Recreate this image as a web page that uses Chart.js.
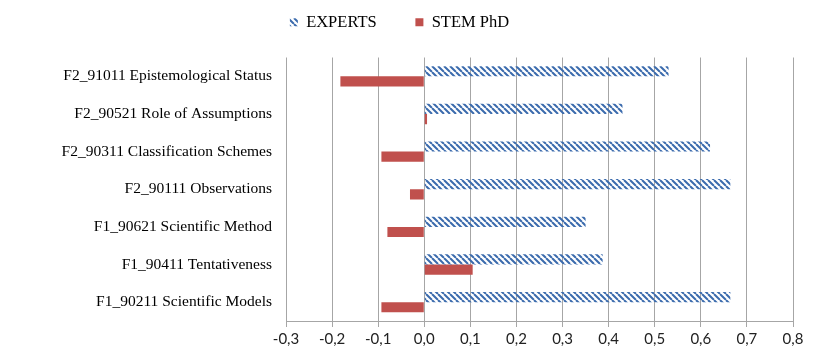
<!DOCTYPE html>
<html>
<head>
<meta charset="utf-8">
<script src="https://cdn.jsdelivr.net/npm/chart.js@4"></script>
<style>
  html, body { margin: 0; padding: 0; background: #fff; }
  #wrap { width: 824px; height: 363px; }
</style>
</head>
<body>
<div id="wrap"><canvas id="chart" width="824" height="363"></canvas></div>
<script>
// chart data
const categories = [
    'F2_91011 Epistemological Status',
    'F2_90521 Role of Assumptions',
    'F2_90311 Classification Schemes',
    'F2_90111 Observations',
    'F1_90621 Scientific Method',
    'F1_90411 Tentativeness',
    'F1_90211 Scientific Models'
];
const expertsValues = [0.53, 0.43, 0.62, 0.664, 0.35, 0.387, 0.664];
const stemValues = [-0.182, 0.006, -0.093, -0.031, -0.08, 0.105, -0.093];
const xTicks = [-0.3, -0.2, -0.1, 0.0, 0.1, 0.2, 0.3, 0.4, 0.5, 0.6, 0.7, 0.8];

// diagonal stripe fill for the EXPERTS bars
function makeStripes() {
    const size = 6;
    const c = document.createElement('canvas');
    c.width = size;
    c.height = size;
    const g = c.getContext('2d');
    g.strokeStyle = '#3B6BAD';
    g.lineWidth = 2;
    g.beginPath();
    for (let k = -1; k <= 1; k++) {
        g.moveTo(k * size, 0);
        g.lineTo(k * size + size, size);
    }
    g.stroke();
    return g.createPattern(c, 'repeat');
}

function fmt(v) {
    return (Math.round(v * 10) / 10).toFixed(1).replace('.', ',');
}

// leave some extra room under the legend
const legendGap = {
    id: 'legendGap',
    beforeLayout: function(chart) {
        const lg = chart.legend;
        if (!lg || lg._gapPatched) return;
        const origFit = lg.fit;
        lg.fit = function() {
            origFit.call(this);
            this.height += 17;
        };
        lg._gapPatched = true;
    }
};

const ctx = document.getElementById('chart');

new Chart(ctx, {
    type: 'bar',
    data: {
        labels: categories,
        datasets: [{
            label: 'EXPERTS',
            data: expertsValues,
            backgroundColor: makeStripes(),
            borderWidth: 0,
            categoryPercentage: 0.54,
            barPercentage: 1.0
        }, {
            label: 'STEM PhD',
            data: stemValues,
            backgroundColor: '#C0504D',
            borderWidth: 0,
            categoryPercentage: 0.54,
            barPercentage: 1.0
        }]
    },
    options: {
        indexAxis: 'y',
        responsive: false,
        animation: false,
        layout: {
            padding: { left: 6, right: 31, top: 0, bottom: 12 }
        },
        plugins: {
            legend: {
                position: 'top',
                labels: {
                    font: { family: 'Liberation Serif', size: 16.5 },
                    color: '#000',
                    boxWidth: 8,
                    boxHeight: 8,
                    padding: 14,
                    generateLabels: function(chart) {
                        const items = Chart.defaults.plugins.legend.labels.generateLabels(chart);
                        items.forEach(function(it, i) {
                            it.lineWidth = 0;
                            if (i === 0) it.text = it.text + '      ';
                        });
                        return items;
                    }
                }
            },
            tooltip: { enabled: false }
        },
        scales: {
            x: {
                min: -0.3,
                max: 0.8,
                afterBuildTicks: function(scale) {
                    scale.ticks = xTicks.map(function(v) { return { value: v }; });
                },
                ticks: {
                    font: { family: 'Lato', size: 15 },
                    color: '#222',
                    padding: 3,
                    callback: function(value) { return fmt(value); }
                },
                grid: {
                    color: '#A6A6A6',
                    tickLength: 6,
                    tickColor: '#A6A6A6'
                },
                border: { color: '#A6A6A6' }
            },
            y: {
                afterFit: function(scale) { scale.width = 280; },
                ticks: {
                    font: { family: 'Liberation Serif', size: 15.5 },
                    color: '#000',
                    padding: 6
                },
                grid: { display: false },
                border: { display: false }
            }
        }
    },
    plugins: [legendGap]
});
</script>
</body>
</html>
